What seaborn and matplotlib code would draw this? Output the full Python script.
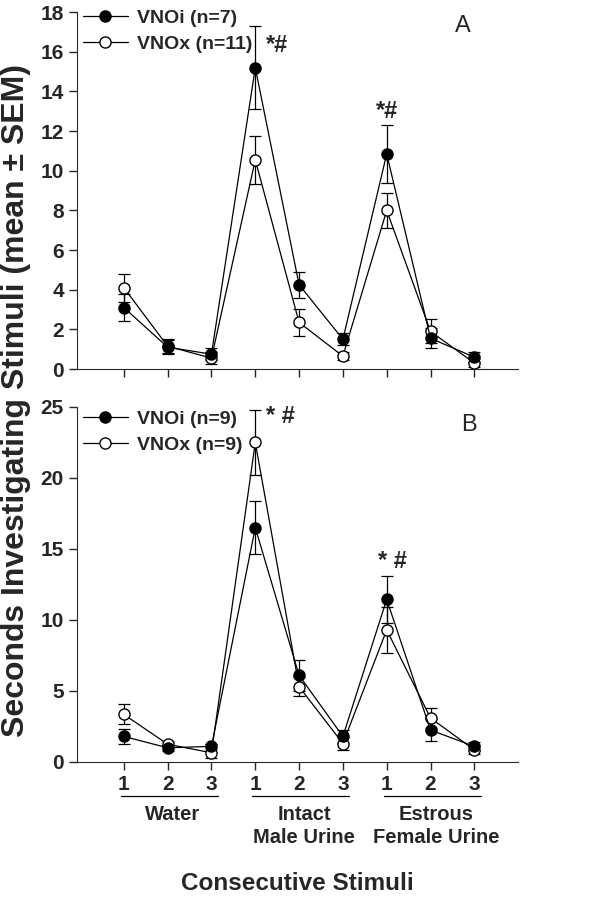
import numpy as np
import matplotlib
matplotlib.use('Agg')
import matplotlib.pyplot as plt
import matplotlib.transforms as mtransforms
import seaborn as sns

# consecutive stimulus positions and labels
positions = [1, 2, 3, 4, 5, 6, 7, 8, 9]
tick_labels = ['1', '2', '3', '1', '2', '3', '1', '2', '3']
groups = ['Water', 'Intact\nMale Urine', 'Estrous\nFemale Urine']

# panel A
a_vnoi_mean = [3.1, 1.1, 0.75, 15.2, 4.25, 1.5, 10.85, 1.55, 0.6]
a_vnoi_sem = [0.7, 0.35, 0.3, 2.1, 0.65, 0.3, 1.45, 0.5, 0.25]
a_vnox_mean = [4.1, 1.15, 0.55, 10.55, 2.35, 0.65, 8.0, 1.9, 0.3]
a_vnox_sem = [0.7, 0.35, 0.3, 1.2, 0.7, 0.2, 0.9, 0.6, 0.2]

# panel B
b_vnoi_mean = [1.8, 1.0, 1.1, 16.5, 6.1, 1.8, 11.45, 2.25, 1.1]
b_vnoi_sem = [0.5, 0.2, 0.2, 1.85, 1.1, 0.45, 1.65, 0.75, 0.3]
b_vnox_mean = [3.35, 1.25, 0.65, 22.5, 5.3, 1.3, 9.3, 3.1, 0.85]
b_vnox_sem = [0.7, 0.2, 0.4, 2.3, 0.65, 0.45, 1.6, 0.7, 0.3]

sns.set_style('ticks')
plt.rcParams['font.family'] = ['Liberation Sans', 'DejaVu Sans']
plt.rcParams['font.weight'] = 'bold'

fig = plt.figure(figsize=(6.11, 8.99), dpi=100)
axA = fig.add_axes([0.126, 0.5895, 0.722, 0.397])
axB = fig.add_axes([0.126, 0.1524, 0.722, 0.3949])


def draw_panel(ax, i_mean, i_sem, x_mean, x_sem, n_i, n_x, leg_y):
    for m, s in [(i_mean, i_sem), (x_mean, x_sem)]:
        ax.errorbar(positions, m, yerr=s, fmt='none', ecolor='black',
                    elinewidth=0.9, capsize=4, capthick=0.9, zorder=1)
    sns.lineplot(x=positions, y=x_mean, ax=ax, color='black', lw=0.9,
                 marker='o', markersize=8, markerfacecolor='white',
                 markeredgecolor='black', markeredgewidth=1.0,
                 label=f'VNOx (n={n_x})', zorder=3)
    sns.lineplot(x=positions, y=i_mean, ax=ax, color='black', lw=0.9,
                 marker='o', markersize=8, markerfacecolor='black',
                 markeredgecolor='black', markeredgewidth=1.0,
                 label=f'VNOi (n={n_i})', zorder=4)
    h, l = ax.get_legend_handles_labels()
    ax.legend(h[::-1], l[::-1], loc='upper left', bbox_to_anchor=(-0.004, leg_y),
              frameon=False, fontsize=14, handlelength=2.3, handletextpad=0.5,
              labelspacing=0.42, borderaxespad=0)
    ax.set_xlim(-0.07, 10)
    ax.set_xticks(positions)
    sns.despine(ax=ax)
    ax.tick_params(axis='both', direction='out', length=6, width=1,
                   labelsize=15)
    for lab in ax.get_yticklabels():
        lab.set_fontweight('bold')
    ax.set_xlabel('')
    ax.set_ylabel('')


draw_panel(axA, a_vnoi_mean, a_vnoi_sem, a_vnox_mean, a_vnox_sem, 7, 11, 1.03)
axA.set_ylim(0, 18)
axA.set_yticks(range(0, 19, 2))
axA.set_xticklabels([])
axA.text(4.25, 16.3, '*#', fontsize=17, fontweight='bold', ha='left', va='center')
axA.text(6.75, 13.0, '*#', fontsize=17, fontweight='bold', ha='left', va='center')
axA.text(0.875, 0.96, 'A', transform=axA.transAxes, fontsize=17,
         fontweight='normal', ha='center', va='center')

draw_panel(axB, b_vnoi_mean, b_vnoi_sem, b_vnox_mean, b_vnox_sem, 9, 9, 1.012)
axB.set_ylim(0, 25)
axB.set_yticks(range(0, 26, 5))
axB.set_xticklabels(tick_labels, fontweight='bold')
axB.text(4.25, 24.3, '* #', fontsize=17, fontweight='bold', ha='left', va='center')
axB.text(6.8, 14.1, '* #', fontsize=17, fontweight='bold', ha='left', va='center')
axB.text(0.889, 0.949, 'B', transform=axB.transAxes, fontsize=17,
         fontweight='normal', ha='center', va='center')

# group underlines and labels
trans = mtransforms.blended_transform_factory(axB.transData, axB.transAxes)
for g, name in enumerate(groups):
    start = positions[3 * g]
    end = positions[3 * g + 2]
    axB.plot([start - 0.07, end + 0.15], [-0.095, -0.095], color='black',
             lw=0.9, transform=trans, clip_on=False)
    axB.text((start + end) / 2 + 0.12, -0.122, name, transform=trans,
             ha='center', va='top', fontsize=14.5, fontweight='bold',
             linespacing=1.25)

fig.text(0.486, 0.005, 'Consecutive Stimuli', ha='center', va='bottom',
         fontsize=17.5, fontweight='bold')
fig.text(0.002, 0.555, 'Seconds Investigating Stimuli (mean ± SEM)',
         rotation=90, ha='left', va='center', fontsize=23, fontweight='bold')

fig.savefig('out.png', dpi=100)
